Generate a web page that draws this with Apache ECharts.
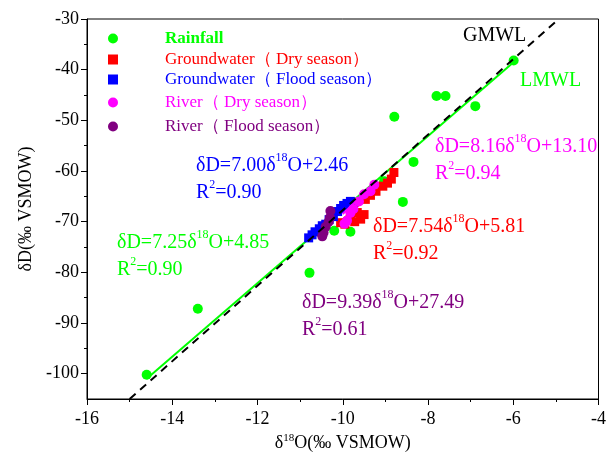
<!DOCTYPE html>
<html>
<head>
<meta charset="utf-8">
<script src="https://cdn.jsdelivr.net/npm/echarts@6/dist/echarts.min.js"></script>
<style>html,body{margin:0;padding:0;background:#fff}#c{width:609px;height:461px}</style>
</head>
<body>
<div id="c"></div>
<script>
// ---- data (δ18O, δD) ----
const rainfall = [[-14.6,-100.2],[-13.4,-87.2],[-10.78,-80.1],[-10.2,-71.8],[-9.82,-72.0],[-9.03,-62.0],[-8.59,-66.1],[-8.34,-58.2],[-8.79,-49.3],[-7.80,-45.2],[-7.59,-45.2],[-6.89,-47.2],[-5.99,-38.2]];
const gwDry = [[-8.80,-60.3],[-8.86,-61.6],[-8.95,-62.4],[-9.06,-63.0],[-9.22,-64.0],[-9.35,-64.8],[-9.47,-65.6],[-9.50,-68.6],[-9.58,-69.5],[-9.66,-68.2],[-9.72,-70.0],[-9.82,-69.0],[-9.95,-70.5],[-10.05,-70.2]];
const gwFlood = [[-10.80,-73.2],[-10.72,-72.6],[-10.65,-72.0],[-10.55,-71.4],[-10.48,-70.8],[-10.40,-70.5],[-10.32,-69.6],[-10.22,-69.0],[-10.12,-68.0],[-10.05,-67.4],[-9.98,-66.8],[-9.90,-66.4],[-9.82,-66.0],[-9.76,-67.2]];
const riverDry = [[-9.26,-62.7],[-9.35,-64.0],[-9.50,-64.6],[-9.62,-66.0],[-9.75,-67.5],[-9.82,-68.3],[-9.90,-69.8],[-9.96,-70.4]];
const riverFlood = [[-10.29,-67.9],[-10.30,-69.2],[-10.33,-70.0],[-10.40,-71.0],[-10.45,-72.2],[-10.48,-72.9]];
// fitted lines (end points)
const lmwl = [[-14.6,-101.0],[-6.0,-38.6]];
const gmwl = [[-15.0,-105],[-5.0,-30.5]];
const gwDryFit = [[-10.1,-70.3],[-8.8,-60.5]];
const gwFloodFit = [[-10.8,-73.1],[-9.8,-66.1]];
const riverDryFit = [[-10.0,-68.5],[-9.2,-62.0]];
const riverFloodFit = [[-10.5,-71.1],[-10.25,-68.8]];
// ticks
const yMajor = [-100,-90,-80,-70,-60,-50,-40,-30];
const yMinor = [-95,-85,-75,-65,-55,-45,-35];
const names = ['Rainfall','Groundwater（ Dry season）','Groundwater（ Flood season）','River（ Dry season）','River（ Flood season）'];
const colors = ['#00FF00','#FF0000','#0000FF','#FF00FF','#800080'];

const FF = '"Liberation Serif","Times New Roman",serif';
const chart = echarts.init(document.getElementById('c'), null, {renderer:'canvas'});
function eq(txt, left, top, color){
  return {type:'text', left:left, top:top, z:100,
    style:{text:txt, fill:color, fontSize:20, fontFamily:FF, lineHeight:27,
      rich:{s:{fontSize:12, fontFamily:FF, fill:color, verticalAlign:'top', lineHeight:27}}}};
}
const legendTops = [30, 51, 71, 94, 118];
const legends = names.map((n,i)=>({
  data:[n], left:108, top:legendTops[i], padding:0, itemWidth:10, itemHeight:10, itemGap:0,
  selectedMode:false,
  textStyle:{color:colors[i], fontSize:17, fontFamily:FF, fontWeight: i===0?'bold':'normal', padding:[0,0,0,42]}
}));
function scat(name, data, color, symbol, size, z){
  return {name:name, type:'scatter', data:data, symbol:symbol, symbolSize:size, z:z,
    itemStyle:{color:color, opacity:1}, emphasis:{disabled:true}};
}
function fit(data, color, z, dashed){
  return {type:'line', data:data, showSymbol:false, symbol:'none', z:z, silent:true,
    lineStyle:{color:color, width:2, type: dashed?[8,6]:'solid'}};
}
chart.setOption({
  animation:false,
  backgroundColor:'#fff',
  grid:{left:87, right:6, top:19, bottom:62, show:true, borderColor:'#000', borderWidth:1, backgroundColor:'transparent'},
  legend: legends,
  xAxis:{type:'value', min:-16, max:-4, interval:2,
    name:'δ{s|18}O(‰ VSMOW)', nameLocation:'middle', nameGap:28,
    nameTextStyle:{color:'#000', fontSize:18, fontFamily:FF, rich:{s:{fontSize:11, fontFamily:FF, verticalAlign:'top', lineHeight:20}}},
    axisLine:{show:true, lineStyle:{color:'#000', width:1}},
    axisTick:{show:true, inside:false, length:6, lineStyle:{color:'#000'}},
    minorTick:{show:true, splitNumber:2, length:3, lineStyle:{color:'#000'}},
    axisLabel:{color:'#000', fontSize:18, fontFamily:FF, margin:11},
    splitLine:{show:false}},
  yAxis:[{type:'value', min:-105, max:-30,
    name:'δD(‰ VSMOW)', nameLocation:'middle', nameGap:42, nameRotate:90,
    nameTextStyle:{color:'#000', fontSize:18, fontFamily:FF},
    axisLine:{show:true, lineStyle:{color:'#000', width:1}},
    axisTick:{show:true, inside:false, length:6, customValues:yMajor, lineStyle:{color:'#000'}},
    axisLabel:{color:'#000', fontSize:18, fontFamily:FF, margin:8, customValues:yMajor},
    splitLine:{show:false}},
   {type:'value', min:-105, max:-30, position:'left',
    axisLine:{show:false},
    axisTick:{show:true, inside:false, length:3, customValues:yMinor, lineStyle:{color:'#000'}},
    axisLabel:{show:false}, splitLine:{show:false}}],
  series:[
    scat(names[0], rainfall, colors[0], 'circle', 10, 2),
    fit(lmwl, colors[0], 3),
    scat(names[1], gwDry, colors[1], 'rect', 9, 4),
    fit(gwDryFit, colors[1], 5),
    scat(names[2], gwFlood, colors[2], 'rect', 9, 6),
    fit(gwFloodFit, colors[2], 7),
    scat(names[3], riverDry, colors[3], 'circle', 10, 8),
    fit(riverDryFit, colors[3], 9),
    scat(names[4], riverFlood, colors[4], 'circle', 10, 10),
    fit(riverFloodFit, colors[4], 11),
    fit(gmwl, '#000', 12, true)
  ],
  graphic:[
    eq('δD=7.00δ{s|18}O+2.46\nR{s|2}=0.90', 196, 152, '#0000FF'),
    eq('δD=7.25δ{s|18}O+4.85\nR{s|2}=0.90', 117, 229, '#00FF00'),
    eq('δD=9.39δ{s|18}O+27.49\nR{s|2}=0.61', 302, 289, '#800080'),
    eq('δD=7.54δ{s|18}O+5.81\nR{s|2}=0.92', 373, 213, '#FF0000'),
    eq('δD=8.16δ{s|18}O+13.10\nR{s|2}=0.94', 435, 133, '#FF00FF'),
    {type:'text', left:463, top:26, z:100, style:{text:'GMWL', fill:'#000', fontSize:20, fontFamily:FF}},
    {type:'text', left:520, top:71, z:100, style:{text:'LMWL', fill:'#00FF00', fontSize:20, fontFamily:FF}}
  ]
});
</script>
</body>
</html>
